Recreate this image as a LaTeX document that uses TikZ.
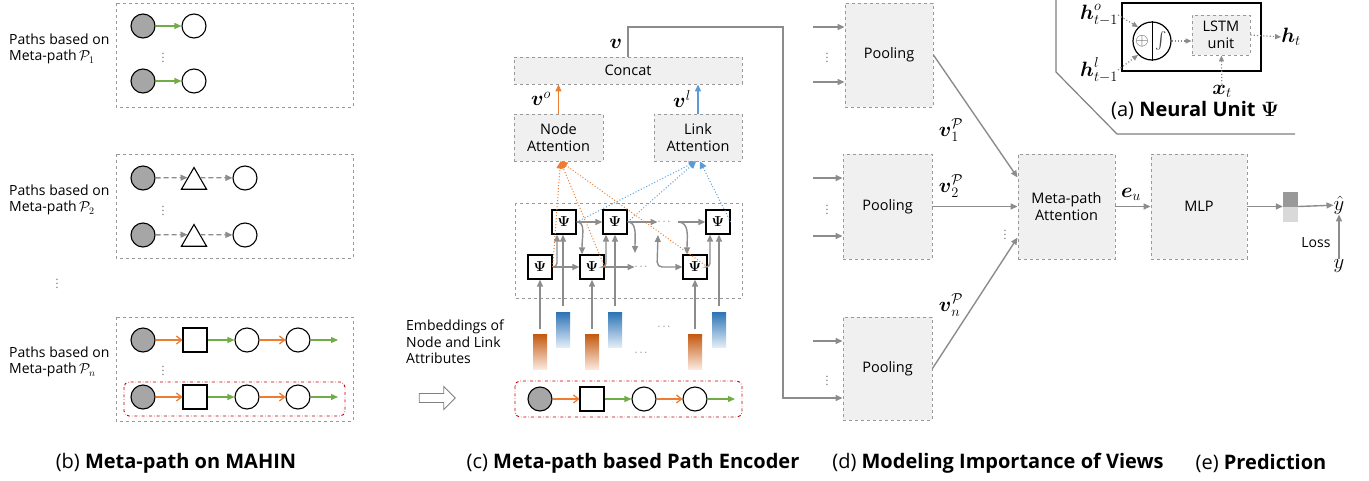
\documentclass[tikz,border=0pt]{standalone}
\usepackage{amsmath,amssymb}
\usepackage{fontspec}
\setmainfont{Open Sans}
\usepackage{tikz}
\usetikzlibrary{shapes.geometric,shapes.arrows,arrows.meta,positioning,calc}
\definecolor{ora}{HTML}{ED7D31}
\definecolor{grn}{HTML}{70AD47}
\definecolor{blu}{HTML}{5B9BD5}
\definecolor{gry}{HTML}{8C8C8C}
\definecolor{redd}{HTML}{C00000}
\definecolor{oradk}{HTML}{C55A11}
\definecolor{oralt}{HTML}{FBEAE0}
\definecolor{bludk}{HTML}{2E75B6}
\definecolor{blult}{HTML}{E4EEF8}
\tikzset{
  grp/.style   = {draw=black!40, dashed, line width=0.9pt},
  sel/.style   = {draw=redd, dash dot, rounded corners=5pt, line width=0.9pt},
  blk/.style   = {rectangle, draw=black!40, dashed, fill=black!6, line width=0.9pt,
                  align=center, font=\fontsize{14.5}{17}\selectfont, inner sep=2pt},
  nd/.style    = {circle, draw=black, line width=1.1pt, fill=white, minimum size=24pt, inner sep=0pt},
  ndg/.style   = {nd, fill=black!35},
  ndsq/.style  = {rectangle, draw=black, line width=1.1pt, fill=white, minimum size=24pt, inner sep=0pt},
  ndtri/.style = {regular polygon, regular polygon sides=3, draw=black, line width=1.1pt,
                  fill=white, minimum size=29pt, inner sep=0pt},
  psi/.style   = {rectangle, draw=black, line width=1.3pt, fill=white, minimum size=24pt,
                  inner sep=0pt, font=\fontsize{15}{16}\selectfont},
  embo/.style  = {rectangle, minimum width=14pt, minimum height=35pt, inner sep=0pt,
                  top color=oradk, bottom color=oralt},
  embb/.style  = {rectangle, minimum width=14pt, minimum height=35pt, inner sep=0pt,
                  top color=bludk, bottom color=blult},
  txt/.style   = {anchor=west, align=left, inner sep=0pt, font=\fontsize{14}{16.5}\selectfont},
  captxt/.style = {inner sep=0pt, font=\fontsize{20}{22}\selectfont},
  mlbl/.style  = {inner sep=0pt, font=\fontsize{20}{22}\selectfont},
  vdt/.style   = {inner sep=0pt, text=black!60, font=\fontsize{11}{11}\selectfont},
  fl/.style    = {-{Triangle[length=7pt,width=6pt]}, line width=1.4pt, gry},
  flg/.style   = {-{Triangle[length=7pt,width=6pt]}, line width=1.3pt, grn},
  flo/.style   = {-{Straight Barb[length=5pt,width=8pt]}, line width=1.3pt, ora},
  fld/.style   = {-{Triangle[length=7pt,width=6pt]}, line width=1.3pt, gry, dash pattern=on 5pt off 3pt},
  flp/.style   = {-{Triangle[length=6pt,width=5pt]}, line width=1.2pt, gry, dotted},
  ddo/.style   = {-{Triangle[length=7pt,width=7pt]}, line width=1pt, ora, dotted},
  ddb/.style   = {-{Triangle[length=7pt,width=7pt]}, line width=1pt, blu, dotted},
}
\begin{document}
\begin{tikzpicture}[x=1pt, y=-1pt]
  \useasboundingbox (0,0) rectangle (1369,480);

  % (b) meta-path instances
  \draw[grp] (116,3) rectangle (353,107);
  \draw[grp] (116,154) rectangle (353,258);
  \draw[grp] (116,317) rectangle (353,421);
  \node[txt] (lab1) at (9,49) {Paths based on\\Meta-path\,$\mathcal{P}_1$};
  \node[txt] (lab2) at (9,200) {Paths based on\\Meta-path\,$\mathcal{P}_2$};
  \node[txt] (lab3) at (9,362) {Paths based on\\Meta-path\,$\mathcal{P}_n$};
  \node[vdt] (vd0) at (57,281) {$\vdots$};

  \node[ndg] (a1) at (143,26) {};
  \node[nd]  (a2) at (194,26) {};
  \node[ndg] (a3) at (143,81) {};
  \node[nd]  (a4) at (194,81) {};
  \draw[flg] (a1) -- (a2);
  \draw[flg] (a3) -- (a4);
  \node[vdt] (vd1) at (163,55) {$\vdots$};

  \node[ndg]   (b1) at (143,178) {};
  \node[ndtri] (b2) at (194,182) {};
  \node[nd]    (b3) at (245,178) {};
  \node[ndg]   (b4) at (143,235) {};
  \node[ndtri] (b5) at (194,239) {};
  \node[nd]    (b6) at (245,235) {};
  \draw[fld] (b1) -- ($(b2.corner 2)!.52!(b2.corner 1)$);
  \draw[fld] ($(b2.corner 3)!.52!(b2.corner 1)$) -- (b3);
  \draw[fld] (b4) -- ($(b5.corner 2)!.52!(b5.corner 1)$);
  \draw[fld] ($(b5.corner 3)!.52!(b5.corner 1)$) -- (b6);
  \node[vdt] (vd2) at (163,208) {$\vdots$};

  \node[ndg]  (c1) at (143,340) {};
  \node[ndsq] (c2) at (195,340) {};
  \node[nd]   (c3) at (247,340) {};
  \node[nd]   (c4) at (298,340) {};
  \coordinate (c5) at (338,340);
  \draw[flo] (c1) -- (c2);
  \draw[flg] (c2) -- (c3);
  \draw[flo] (c3) -- (c4);
  \draw[flg] (c4) -- (c5);
  \node[vdt] (vd3) at (163,368) {$\vdots$};
  \draw[sel] (124,382) rectangle (345,416);
  \node[ndg]  (d1) at (143,397) {};
  \node[ndsq] (d2) at (195,397) {};
  \node[nd]   (d3) at (247,397) {};
  \node[nd]   (d4) at (298,397) {};
  \coordinate (d5) at (338,397);
  \draw[flo] (d1) -- (d2);
  \draw[flg] (d2) -- (d3);
  \draw[flo] (d3) -- (d4);
  \draw[flg] (d4) -- (d5);
  \node[captxt] (capb) at (176,463) {(b) \textbf{Meta-path on MAHIN}};

  % (c) path encoder
  \node[txt] (emb) at (406,342) {Embeddings of\\Node and Link\\Attributes};
  \node[single arrow, draw=black!50, line width=0.9pt, fill=white, minimum width=23pt,
        minimum height=36pt, single arrow head extend=7pt, inner sep=4pt] (harr) at (435,398) {};
  \draw[sel] (515,381) rectangle (742,417);
  \node[ndg]  (e1) at (540,399) {};
  \node[ndsq] (e2) at (592,399) {};
  \node[nd]   (e3) at (644,399) {};
  \node[nd]   (e4) at (695,399) {};
  \coordinate (e5) at (735,399);
  \draw[flo] (e1) -- (e2);
  \draw[flg] (e2) -- (e3);
  \draw[flo] (e3) -- (e4);
  \draw[flg] (e4) -- (e5);

  \node[embo] (o1) at (540,352) {};
  \node[embo] (o2) at (592,352) {};
  \node[embo] (o3) at (695,352) {};
  \node[embb] (u1) at (563,330) {};
  \node[embb] (u2) at (615,330) {};
  \node[embb] (u3) at (719,330) {};
  \node[vdt] (hd1) at (665,327) {$\cdots$};
  \node[vdt] (hd2) at (642,353) {$\cdots$};

  \draw[grp] (515,203) rectangle (742,298);
  \node[psi] (pb1) at (540,267) {$\boldsymbol{\Psi}$};
  \node[psi] (pb2) at (592,267) {$\boldsymbol{\Psi}$};
  \node[psi] (pb3) at (695,267) {$\boldsymbol{\Psi}$};
  \node[psi] (pt1) at (564,222) {$\boldsymbol{\Psi}$};
  \node[psi] (pt2) at (615,222) {$\boldsymbol{\Psi}$};
  \node[psi] (pt3) at (718,222) {$\boldsymbol{\Psi}$};
  \node[vdt] (hb) at (642,267) {$\cdots$};
  \node[vdt] (ht) at (665,222) {$\cdots$};
  \coordinate (hj) at (657,267);
  \coordinate (hu) at (658,235);
  \coordinate (tj) at (678,222);
  \coordinate (hd) at (635,253);

  \draw[fl, shorten <=5pt] (o1) -- (pb1);
  \draw[fl, shorten <=5pt] (o2) -- (pb2);
  \draw[fl, shorten <=5pt] (o3) -- (pb3);
  \draw[fl, shorten <=6pt] (u1.north) -- (u1.north |- pt1.south);
  \draw[fl, shorten <=6pt] (u2.north) -- (u2.north |- pt2.south);
  \draw[fl, shorten <=6pt] (u3.north) -- (u3.north |- pt3.south);
  \draw[fl, rounded corners=4pt] (pb1.east) -| ([xshift=-7pt]pt1.south);
  \draw[fl, rounded corners=4pt] (pb2.east) -| ([xshift=-9pt]pt2.south);
  \draw[fl, rounded corners=4pt] (pb3.east) -| ([xshift=-8pt]pt3.south);
  \draw[fl] (pb1) -- (pb2);
  \draw[fl] (pb2) -- (hb);
  \draw[fl, {Triangle[length=7pt,width=6pt]}-{Triangle[length=7pt,width=6pt]}, rounded corners=5pt]
    (hu) -- (hj) -- (pb3);
  \draw[fl] (pt1) -- (pt2);
  \draw[fl] (pt2) -- (ht);
  \draw[fl] (tj) -- (pt3);
  \draw[fl] (pt1.east) .. controls (586,222) and (582,236) .. ([xshift=-10pt]pb2.north);
  \draw[fl] (pt2.east) .. controls (637,222) and (635,236) .. (hd);
  \draw[fl] (tj) .. controls (690,222) and (687,238) .. ([xshift=-8pt]pb3.north);

  \node[blk, minimum width=89pt, minimum height=47pt] (natt) at (558.5,137.5) {Node\\Attention};
  \node[blk, minimum width=88pt, minimum height=47pt] (latt) at (698,137.5) {Link\\Attention};
  \node[blk, minimum width=228pt, minimum height=27pt] (cat) at (628,70.5) {Concat};
  \draw[-{Triangle[length=7pt,width=6pt]}, line width=1.4pt, ora] (natt) -- (natt |- cat.south);
  \draw[-{Triangle[length=7pt,width=6pt]}, line width=1.4pt, blu] (latt) -- (latt |- cat.south);
  \node[mlbl] (vo) at (541,99) {$\boldsymbol{v}^o$};
  \node[mlbl] (vl) at (682,99) {$\boldsymbol{v}^l$};
  \node[mlbl] (vv) at (616,44) {$\boldsymbol{v}$};

  \draw[ddo] (pb1.east) -- ([xshift=2pt]natt.south);
  \draw[ddo] (pb2.east) -- ([xshift=2pt]natt.south);
  \draw[ddo] (pb3.east) -- ([xshift=2pt]natt.south);
  \draw[ddb] (pt1.east) -- ([xshift=-2pt]latt.south);
  \draw[ddb] (pt2.east) -- ([xshift=-2pt]latt.south);
  \draw[ddb] (pt3.east) -- ([xshift=2pt]latt.south);
  \node[captxt] (capc) at (633,463) {(c) \textbf{Meta-path based Path Encoder}};

  % (d) importance of views
  \node[blk, minimum width=88pt, minimum height=104pt] (pool1) at (889,55) {Pooling};
  \node[blk, minimum width=89pt, minimum height=105pt] (pool2) at (887.5,206.5) {Pooling};
  \node[blk, minimum width=89pt, minimum height=103pt] (pool3) at (887.5,368.5) {Pooling};
  \coordinate (i1a) at (813,27);
  \coordinate (i1b) at (813,82);
  \coordinate (i2a) at (813,178);
  \coordinate (i2b) at (813,236);
  \coordinate (i3a) at (813,341);
  \coordinate (vturn) at (783,27);
  \coordinate (vdown) at (783,398);
  \draw[fl] (i1a) -- (i1a -| pool1.west);
  \draw[fl] (i1b) -- (i1b -| pool1.west);
  \draw[fl] (i2a) -- (i2a -| pool2.west);
  \draw[fl] (i2b) -- (i2b -| pool2.west);
  \draw[fl] (i3a) -- (i3a -| pool3.west);
  \draw[fl] (cat.north) |- (vturn) -- (vdown) -- (vdown -| pool3.west);
  \node[vdt] (pd1) at (827,55) {$\vdots$};
  \node[vdt] (pd2) at (827,207) {$\vdots$};
  \node[vdt] (pd3) at (827,378) {$\vdots$};

  \node[blk, minimum width=97pt, minimum height=105pt] (matt) at (1066.5,206.5) {Meta-path\\Attention};
  \draw[fl] (pool1.east) -- ([yshift=29pt]matt.west);
  \draw[fl] (pool2) -- (matt);
  \draw[fl] (pool3.east) -- ([yshift=-31pt]matt.west);
  \node[mlbl] (v1) at (951,130) {$\boldsymbol{v}_1^{\mathcal{P}}$};
  \node[mlbl] (v2) at (951,186) {$\boldsymbol{v}_2^{\mathcal{P}}$};
  \node[mlbl] (vn) at (951,305) {$\boldsymbol{v}_n^{\mathcal{P}}$};
  \node[vdt] (md) at (1005,232) {$\vdots$};
  \node[captxt] (capd) at (998,463) {(d) \textbf{Modeling Importance of Views}};

  % (e) prediction
  \node[blk, minimum width=96pt, minimum height=105pt] (mlp) at (1199,206.5) {MLP};
  \draw[fl] (matt) -- (mlp);
  \node[mlbl] (eu) at (1131,194) {$\boldsymbol{e}_u$};
  \node[rectangle, fill=black!40, minimum width=15pt, minimum height=15pt, inner sep=0pt] (obt) at (1290.5,199) {};
  \node[rectangle, fill=black!15, minimum width=15pt, minimum height=15pt, inner sep=0pt] (obb) at (1290.5,214) {};
  \draw[fl] (mlp.east) -- (mlp.east -| obt.west);
  \node[mlbl] (yh) at (1339,205) {$\hat{y}$};
  \node[mlbl] (yy) at (1339,266) {$y$};
  \draw[fl] (mlp.east -| obt.east) -- (yh);
  \draw[fl] (yy) -- (yh);
  \node[inner sep=0pt, font=\fontsize{14}{15}\selectfont] (loss) at (1316,243) {Loss};
  \node[captxt] (cape) at (1261,463) {(e) \textbf{Prediction}};

  % (a) neural unit
  \draw[black!50, line width=1.2pt] (1056,0) -- (1056,72) -- (1117,134) -- (1295,134);
  \draw[line width=1.5pt] (1122,3) rectangle (1261,71);
  \node[circle, draw=black, line width=1.2pt, fill=white, minimum size=38pt, inner sep=0pt] (sig) at (1152,41) {};
  \draw[line width=1pt] (sig.north) -- (sig.south);
  \node[inner sep=0pt, font=\fontsize{17}{17}\selectfont, text=black!70] (opl) at (1142,41) {$\oplus$};
  \node[inner sep=0pt, font=\fontsize{17}{17}\selectfont, text=black!70] (oint) at (1161,41) {$\int$};
  \node[blk, minimum width=58pt, minimum height=40pt] (lstm) at (1221,35) {LSTM\\unit};
  \node[mlbl] (ho) at (1099,15) {$\boldsymbol{h}_{t-1}^{o}$};
  \node[mlbl] (hl) at (1099,70) {$\boldsymbol{h}_{t-1}^{l}$};
  \node[mlbl] (ht1) at (1291,37) {$\boldsymbol{h}_t$};
  \node[mlbl] (xt) at (1222,91) {$\boldsymbol{x}_t$};
  \draw[flp] (ho.east) -- (sig.north west);
  \draw[flp] (hl.east) -- (sig.south west);
  \draw[flp] (sig.east) -- (sig.east -| lstm.west);
  \draw[flp] (lstm.east) -- (ht1.west);
  \draw[flp] (xt) -- (lstm);
  \node[captxt] (capa) at (1195,110) {(a) \textbf{Neural Unit $\boldsymbol{\Psi}$}};
\end{tikzpicture}
\end{document}
